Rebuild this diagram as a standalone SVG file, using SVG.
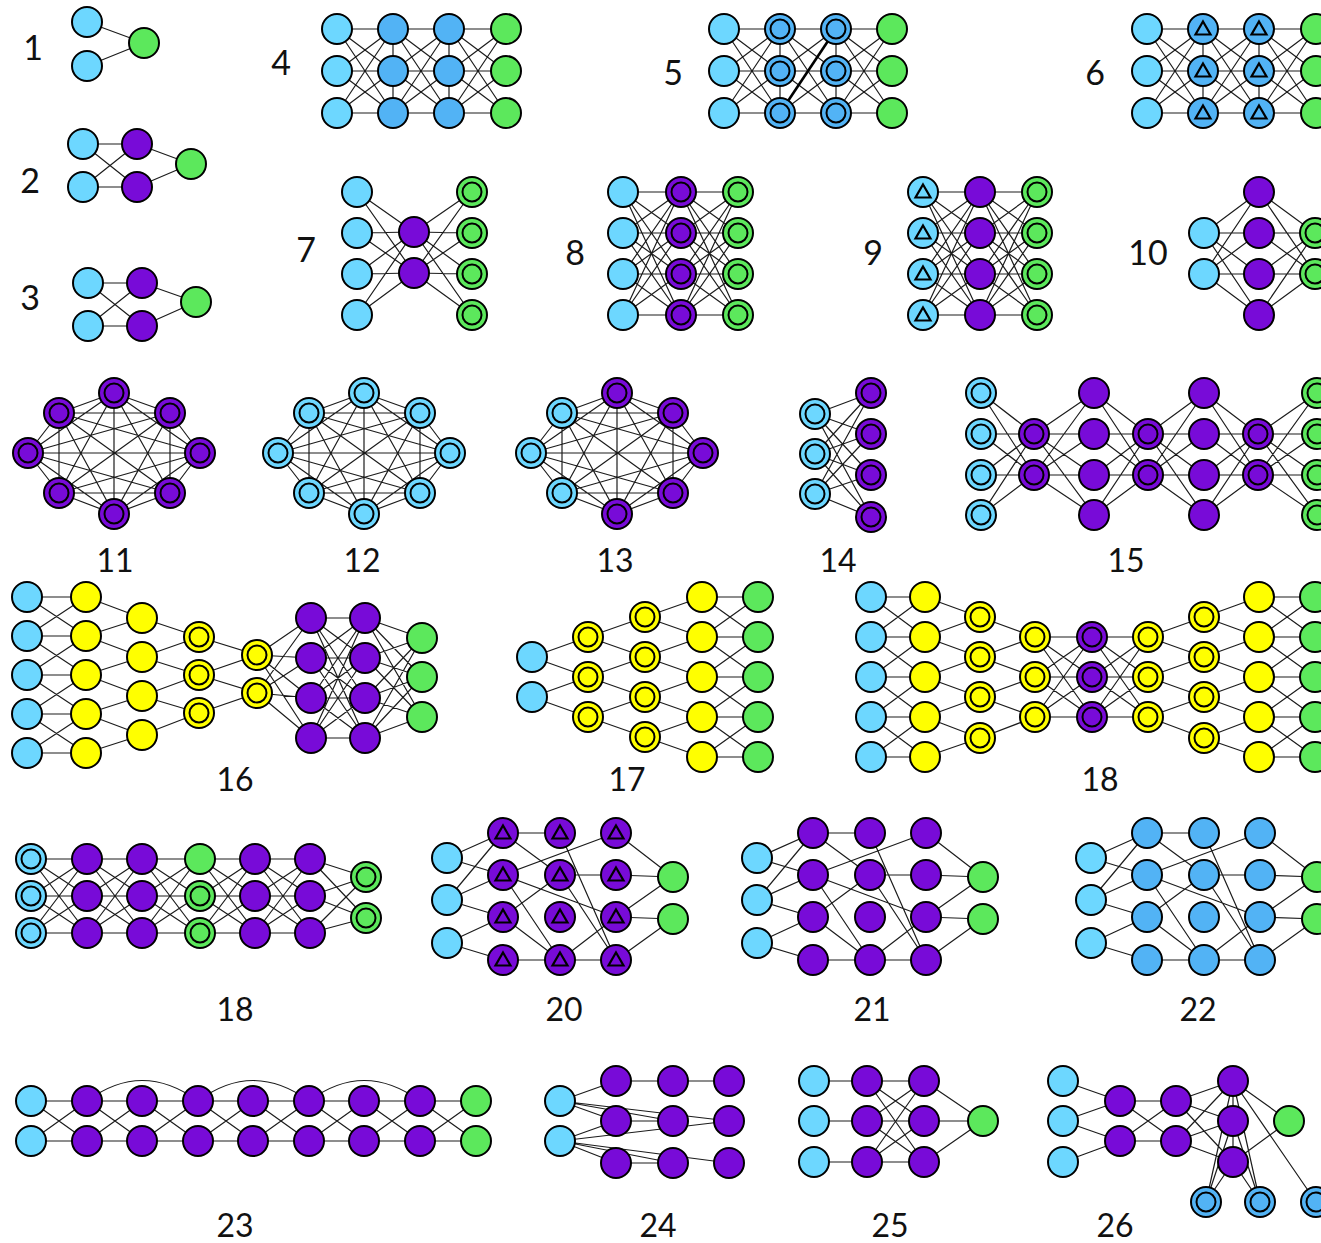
<svg xmlns="http://www.w3.org/2000/svg" width="1321" height="1243" viewBox="0 0 1321 1243">
<style>
.lb{fill:#6dd7ff;stroke:#000;stroke-width:2}
.mb{fill:#52b3f5;stroke:#000;stroke-width:2}
.gr{fill:#5ce85c;stroke:#000;stroke-width:2}
.pu{fill:#780bd8;stroke:#000;stroke-width:2}
.ye{fill:#ffff00;stroke:#000;stroke-width:2}
.tri{fill:none;stroke:#000;stroke-width:2.2;stroke-linejoin:miter}
.e{fill:none;stroke:#1c1c1c;stroke-width:1.2}
.lbl{font-family:Lato,"Liberation Sans",sans-serif;font-size:34px;fill:#111;text-anchor:middle}
.lbl2{font-family:Lato,"Liberation Sans",sans-serif;font-size:32px;fill:#111;text-anchor:middle}
</style>
<defs>
<g id="LB"><circle r="15" class="lb"/></g>
<g id="LBD"><circle r="15" class="lb"/><circle r="9.5" class="lb"/></g>
<g id="LBT"><circle r="15" class="lb"/><path class="tri" d="M0 -7.5L7.5 5.5H-7.5Z"/></g>
<g id="MB"><circle r="15" class="mb"/></g>
<g id="MBD"><circle r="15" class="mb"/><circle r="9.5" class="mb"/></g>
<g id="MBT"><circle r="15" class="mb"/><path class="tri" d="M0 -7.5L7.5 5.5H-7.5Z"/></g>
<g id="GR"><circle r="15" class="gr"/></g>
<g id="GRD"><circle r="15" class="gr"/><circle r="9.5" class="gr"/></g>
<g id="PU"><circle r="15" class="pu"/></g>
<g id="PUD"><circle r="15" class="pu"/><circle r="9.5" class="pu"/></g>
<g id="PUT"><circle r="15" class="pu"/><path class="tri" d="M0 -7.5L7.5 5.5H-7.5Z"/></g>
<g id="YE"><circle r="15" class="ye"/></g>
<g id="YED"><circle r="15" class="ye"/><circle r="9.5" class="ye"/></g>
<path id="fb33" class="e" d="M0 0L56 0M0 0L56 42M0 0L56 84M0 42L56 0M0 42L56 42M0 42L56 84M0 84L56 0M0 84L56 42M0 84L56 84"/>
<path id="fb44" class="e" d="M0 0L57 0M0 0L57 41M0 0L57 82M0 0L57 123M0 41L57 0M0 41L57 41M0 41L57 82M0 41L57 123M0 82L57 0M0 82L57 41M0 82L57 82M0 82L57 123M0 123L57 0M0 123L57 41M0 123L57 82M0 123L57 123"/>
<path id="fb33s" class="e" d="M0 0L56 0M0 0L56 37M0 0L56 74M0 37L56 0M0 37L56 37M0 37L56 74M0 74L56 0M0 74L56 37M0 74L56 74"/>
<path id="fb22" class="e" d="M0 0L56 0M0 0L56 40M0 40L56 0M0 40L56 40"/>
<path id="k8" class="e" d="M114 393L170 413M114 393L200 453M114 393L170 493M114 393L114 514M114 393L59 493M114 393L28 453M114 393L59 413M170 413L200 453M170 413L170 493M170 413L114 514M170 413L59 493M170 413L28 453M170 413L59 413M200 453L170 493M200 453L114 514M200 453L59 493M200 453L28 453M200 453L59 413M170 493L114 514M170 493L59 493M170 493L28 453M170 493L59 413M114 514L59 493M114 514L28 453M114 514L59 413M59 493L28 453M59 493L59 413M28 453L59 413"/>
<path id="net20" class="e" d="M0 0L56 -25M0 0L56 17M0 42L56 -25M0 42L56 17M0 42L56 59M0 85L56 59M0 85L56 102M56 -25L113 -25M56 -25L113 17M56 17L169 -25M56 17L169 59M56 17L113 102M56 59L113 17M56 59L113 102M56 102L113 102M113 -25L169 102M113 17L169 17M113 17L169 102M113 102L169 59M113 102L169 102M169 -25L226 19M169 17L226 19M169 59L226 19M169 59L226 61M169 102L226 61"/>
</defs>
<rect width="1321" height="1243" fill="#fff"/>
<g id="connectors">
<path class="e" d="M87 22L144 43M87 66L144 43"/>
<path class="e" d="M83 144L137 144M83 144L137 187M83 187L137 144M83 187L137 187M137 144L191 164M137 187L191 164"/>
<path class="e" d="M88 283L142 283M88 283L142 326M88 326L142 283M88 326L142 326M142 283L196 302M142 326L196 302"/>
<use href="#fb33" x="337" y="29"/><use href="#fb33" x="393" y="29"/><use href="#fb33" x="450" y="29"/>
<path class="e" d="M393 29L393 113M449 29L449 113"/>
<use href="#fb33" x="724" y="29"/><use href="#fb33" x="780" y="29"/><use href="#fb33" x="836" y="29"/>
<path class="e" d="M780 29L780 113M836 29L836 113"/>
<path class="e" style="stroke-width:2.6;stroke:#000" d="M780 113L836 29"/>
<use href="#fb33" x="1147" y="29"/><use href="#fb33" x="1203" y="29"/><use href="#fb33" x="1259" y="29"/>
<path class="e" d="M1203 29L1203 113M1259 29L1259 113"/>
<path class="e" d="M357 192L414 232M357 192L414 273M357 233L414 232M357 233L414 273M357 274L414 232M357 274L414 273M357 315L414 232M357 315L414 273M414 232L472 192M414 232L472 233M414 232L472 274M414 232L472 315M414 273L472 192M414 273L472 233M414 273L472 274M414 273L472 315"/>
<use href="#fb44" x="623" y="192"/><use href="#fb44" x="681" y="192"/>
<use href="#fb44" x="923" y="192"/><use href="#fb44" x="980" y="192"/>
<path class="e" d="M1204 233L1259 192M1204 233L1259 233M1204 233L1259 274M1204 233L1259 315M1204 274L1259 192M1204 274L1259 233M1204 274L1259 274M1204 274L1259 315M1259 192L1315 233M1259 192L1315 274M1259 233L1315 233M1259 233L1315 274M1259 274L1315 233M1259 274L1315 274M1259 315L1315 233M1259 315L1315 274"/>
<use href="#k8"/><use href="#k8" x="250"/><use href="#k8" x="503"/>
<path class="e" d="M815 414L871 393M815 414L871 434M815 414L871 475M815 414L871 517M815 454L871 393M815 454L871 434M815 454L871 475M815 454L871 517M815 494L871 393M815 494L871 434M815 494L871 475M815 494L871 517"/>
<path class="e" d="M981 393L1034 434M981 393L1034 475M981 434L1034 434M981 434L1034 475M981 475L1034 434M981 475L1034 475M981 515L1034 434M981 515L1034 475M1034 434L1094 393M1034 434L1094 434M1034 434L1094 475M1034 434L1094 515M1034 475L1094 393M1034 475L1094 434M1034 475L1094 475M1034 475L1094 515M1094 393L1148 434M1094 393L1148 475M1094 434L1148 434M1094 434L1148 475M1094 475L1148 434M1094 475L1148 475M1094 515L1148 434M1094 515L1148 475M1148 434L1204 393M1148 434L1204 434M1148 434L1204 475M1148 434L1204 515M1148 475L1204 393M1148 475L1204 434M1148 475L1204 475M1148 475L1204 515M1204 393L1258 434M1204 393L1258 475M1204 434L1258 434M1204 434L1258 475M1204 475L1258 434M1204 475L1258 475M1204 515L1258 434M1204 515L1258 475M1258 434L1317 393M1258 434L1317 434M1258 434L1317 475M1258 434L1317 515M1258 475L1317 393M1258 475L1317 434M1258 475L1317 475M1258 475L1317 515"/>
<path class="e" d="M27 597L86 597M27 597L86 636M27 636L86 597M27 636L86 636M27 636L86 675M27 675L86 636M27 675L86 675M27 675L86 714M27 714L86 675M27 714L86 714M27 714L86 753M27 753L86 714M27 753L86 753M86 597L142 618M86 636L142 618M86 636L142 657M86 675L142 657M86 675L142 696M86 714L142 696M86 714L142 735M86 753L142 735M142 618L199 637M142 657L199 637M142 657L199 675M142 696L199 675M142 696L199 713M142 735L199 713M199 637L257 655M199 675L257 655M199 675L257 693M199 713L257 693M257 655L311 618M257 655L311 658M257 655L311 698M257 655L311 738M257 693L311 618M257 693L311 658M257 693L311 698M257 693L311 738M311 618L365 618M311 618L365 658M311 618L365 698M311 618L365 738M311 658L365 618M311 658L365 658M311 658L365 698M311 658L365 738M311 698L365 618M311 698L365 658M311 698L365 698M311 698L365 738M311 738L365 618M311 738L365 658M311 738L365 698M311 738L365 738M365 618L422 638M365 618L422 677M365 618L422 717M365 658L422 638M365 658L422 677M365 658L422 717M365 698L422 638M365 698L422 677M365 698L422 717M365 738L422 638M365 738L422 677M365 738L422 717"/>
<path class="e" d="M532 657L588 637M532 657L588 677M532 697L588 677M532 697L588 717M588 637L645 617M588 637L645 657M588 677L645 657M588 677L645 697M588 717L645 697M588 717L645 737M645 617L702 597M645 617L702 637M645 657L702 637M645 657L702 677M645 697L702 677M645 697L702 717M645 737L702 717M645 737L702 757M702 597L758 597M702 597L758 637M702 637L758 597M702 637L758 637M702 637L758 677M702 677L758 637M702 677L758 677M702 677L758 717M702 717L758 677M702 717L758 717M702 717L758 757M702 757L758 717M702 757L758 757"/>
<path class="e" d="M871 597L925 597M871 597L925 637M871 637L925 597M871 637L925 637M871 637L925 677M871 677L925 637M871 677L925 677M871 677L925 717M871 717L925 677M871 717L925 717M871 717L925 757M871 757L925 717M871 757L925 757M925 597L980 617M925 637L980 617M925 637L980 657M925 677L980 657M925 677L980 697M925 717L980 697M925 717L980 738M925 757L980 738M980 617L1035 637M980 657L1035 637M980 657L1035 677M980 697L1035 677M980 697L1035 717M980 738L1035 717M1035 637L1092 637M1035 637L1092 677M1035 637L1092 717M1035 677L1092 637M1035 677L1092 677M1035 677L1092 717M1035 717L1092 637M1035 717L1092 677M1035 717L1092 717M1092 637L1148 637M1092 637L1148 677M1092 637L1148 717M1092 677L1148 637M1092 677L1148 677M1092 677L1148 717M1092 717L1148 637M1092 717L1148 677M1092 717L1148 717M1148 637L1204 617M1148 637L1204 657M1148 677L1204 657M1148 677L1204 697M1148 717L1204 697M1148 717L1204 738M1204 617L1259 597M1204 617L1259 637M1204 657L1259 637M1204 657L1259 677M1204 697L1259 677M1204 697L1259 717M1204 738L1259 717M1204 738L1259 757M1259 597L1315 597M1259 597L1315 637M1259 637L1315 597M1259 637L1315 637M1259 637L1315 677M1259 677L1315 637M1259 677L1315 677M1259 677L1315 717M1259 717L1315 677M1259 717L1315 717M1259 717L1315 757M1259 757L1315 717M1259 757L1315 757"/>
<use href="#fb33s" x="31" y="859"/><use href="#fb33s" x="87" y="859"/><use href="#fb33s" x="142" y="859"/><use href="#fb33s" x="200" y="859"/><use href="#fb33s" x="255" y="859"/>
<path class="e" d="M310 859L366 877M310 859L366 918M310 896L366 877M310 896L366 918M310 933L366 877M310 933L366 918"/>
<use href="#net20" x="447" y="858"/><use href="#net20" x="757" y="858"/><use href="#net20" x="1091" y="858"/>
<use href="#fb22" x="31" y="1101"/><use href="#fb22" x="87" y="1101"/><use href="#fb22" x="142" y="1101"/><use href="#fb22" x="198" y="1101"/><use href="#fb22" x="253" y="1101"/><use href="#fb22" x="309" y="1101"/><use href="#fb22" x="364" y="1101"/><use href="#fb22" x="420" y="1101"/>
<path class="e" d="M87 1101Q142 1060 198 1101M198 1101Q253 1060 309 1101M309 1101Q364 1060 420 1101"/>
<path class="e" d="M560 1101L616 1081M560 1101L616 1121M560 1101L673 1121M560 1101L729 1121M560 1141L616 1121M560 1141L616 1163M560 1141L673 1163M560 1141L729 1163M560 1141L729 1121M616 1081L673 1081M616 1121L673 1121M616 1163L673 1163M673 1081L729 1081"/>
<path class="e" d="M814 1081L867 1081M814 1121L867 1121M814 1162L867 1162M867 1081L924 1081M867 1081L924 1121M867 1081L924 1162M867 1121L924 1081M867 1121L924 1121M867 1121L924 1162M867 1162L924 1081M867 1162L924 1121M867 1162L924 1162M924 1081L983 1121M924 1121L983 1121M924 1162L983 1121"/>
<path class="e" d="M1063 1081L1120 1101M1063 1121L1120 1101M1063 1121L1120 1141M1063 1162L1120 1141M1120 1101L1176 1101M1120 1101L1176 1141M1120 1141L1176 1101M1120 1141L1176 1141M1176 1101L1233 1081M1176 1101L1233 1121M1176 1101L1233 1162M1176 1141L1233 1081M1176 1141L1233 1121M1176 1141L1233 1162M1233 1081L1233 1162M1233 1081L1289 1121M1233 1162L1289 1121M1233 1081L1206 1202M1233 1081L1260 1202M1233 1081L1316 1202M1233 1121L1206 1202M1233 1121L1260 1202M1233 1162L1206 1202M1233 1162L1260 1202"/>
</g>
<g id="nodes">
<g id="d1-1"><use href="#LB" x="87" y="22"/></g><g id="d1-2"><use href="#LB" x="87" y="66"/></g><g id="d1-3"><use href="#GR" x="144" y="43"/></g>
<g id="d2-1"><use href="#LB" x="83" y="144"/></g><g id="d2-2"><use href="#LB" x="83" y="187"/></g><g id="d2-3"><use href="#PU" x="137" y="144"/></g><g id="d2-4"><use href="#PU" x="137" y="187"/></g><g id="d2-5"><use href="#GR" x="191" y="164"/></g>
<g id="d3-1"><use href="#LB" x="88" y="283"/></g><g id="d3-2"><use href="#LB" x="88" y="326"/></g><g id="d3-3"><use href="#PU" x="142" y="283"/></g><g id="d3-4"><use href="#PU" x="142" y="326"/></g><g id="d3-5"><use href="#GR" x="196" y="302"/></g>
<g id="d4-1"><use href="#LB" x="337" y="29"/></g><g id="d4-2"><use href="#LB" x="337" y="71"/></g><g id="d4-3"><use href="#LB" x="337" y="113"/></g>
<g id="d4-4"><use href="#MB" x="393" y="29"/></g><g id="d4-5"><use href="#MB" x="393" y="71"/></g><g id="d4-6"><use href="#MB" x="393" y="113"/></g>
<g id="d4-7"><use href="#MB" x="449" y="29"/></g><g id="d4-8"><use href="#MB" x="449" y="71"/></g><g id="d4-9"><use href="#MB" x="449" y="113"/></g>
<g id="d4-10"><use href="#GR" x="506" y="29"/></g><g id="d4-11"><use href="#GR" x="506" y="71"/></g><g id="d4-12"><use href="#GR" x="506" y="113"/></g>
<g id="d5-1"><use href="#LB" x="724" y="29"/></g><g id="d5-2"><use href="#LB" x="724" y="71"/></g><g id="d5-3"><use href="#LB" x="724" y="113"/></g>
<g id="d5-4"><use href="#MBD" x="780" y="29"/></g><g id="d5-5"><use href="#MBD" x="780" y="71"/></g><g id="d5-6"><use href="#MBD" x="780" y="113"/></g>
<g id="d5-7"><use href="#MBD" x="836" y="29"/></g><g id="d5-8"><use href="#MBD" x="836" y="71"/></g><g id="d5-9"><use href="#MBD" x="836" y="113"/></g>
<g id="d5-10"><use href="#GR" x="892" y="29"/></g><g id="d5-11"><use href="#GR" x="892" y="71"/></g><g id="d5-12"><use href="#GR" x="892" y="113"/></g>
<g id="d6-1"><use href="#LB" x="1147" y="29"/></g><g id="d6-2"><use href="#LB" x="1147" y="71"/></g><g id="d6-3"><use href="#LB" x="1147" y="113"/></g>
<g id="d6-4"><use href="#MBT" x="1203" y="29"/></g><g id="d6-5"><use href="#MBT" x="1203" y="71"/></g><g id="d6-6"><use href="#MBT" x="1203" y="113"/></g>
<g id="d6-7"><use href="#MBT" x="1259" y="29"/></g><g id="d6-8"><use href="#MBT" x="1259" y="71"/></g><g id="d6-9"><use href="#MBT" x="1259" y="113"/></g>
<g id="d6-10"><use href="#GR" x="1316" y="29"/></g><g id="d6-11"><use href="#GR" x="1316" y="71"/></g><g id="d6-12"><use href="#GR" x="1316" y="113"/></g>
<g id="d7-1"><use href="#LB" x="357" y="192"/></g><g id="d7-2"><use href="#LB" x="357" y="233"/></g><g id="d7-3"><use href="#LB" x="357" y="274"/></g><g id="d7-4"><use href="#LB" x="357" y="315"/></g>
<g id="d7-5"><use href="#PU" x="414" y="232"/></g><g id="d7-6"><use href="#PU" x="414" y="273"/></g>
<g id="d7-7"><use href="#GRD" x="472" y="192"/></g><g id="d7-8"><use href="#GRD" x="472" y="233"/></g><g id="d7-9"><use href="#GRD" x="472" y="274"/></g><g id="d7-10"><use href="#GRD" x="472" y="315"/></g>
<g id="d8-1"><use href="#LB" x="623" y="192"/></g><g id="d8-2"><use href="#LB" x="623" y="233"/></g><g id="d8-3"><use href="#LB" x="623" y="274"/></g><g id="d8-4"><use href="#LB" x="623" y="315"/></g>
<g id="d8-5"><use href="#PUD" x="681" y="192"/></g><g id="d8-6"><use href="#PUD" x="681" y="233"/></g><g id="d8-7"><use href="#PUD" x="681" y="274"/></g><g id="d8-8"><use href="#PUD" x="681" y="315"/></g>
<g id="d8-9"><use href="#GRD" x="738" y="192"/></g><g id="d8-10"><use href="#GRD" x="738" y="233"/></g><g id="d8-11"><use href="#GRD" x="738" y="274"/></g><g id="d8-12"><use href="#GRD" x="738" y="315"/></g>
<g id="d9-1"><use href="#LBT" x="923" y="192"/></g><g id="d9-2"><use href="#LBT" x="923" y="233"/></g><g id="d9-3"><use href="#LBT" x="923" y="274"/></g><g id="d9-4"><use href="#LBT" x="923" y="315"/></g>
<g id="d9-5"><use href="#PU" x="980" y="192"/></g><g id="d9-6"><use href="#PU" x="980" y="233"/></g><g id="d9-7"><use href="#PU" x="980" y="274"/></g><g id="d9-8"><use href="#PU" x="980" y="315"/></g>
<g id="d9-9"><use href="#GRD" x="1037" y="192"/></g><g id="d9-10"><use href="#GRD" x="1037" y="233"/></g><g id="d9-11"><use href="#GRD" x="1037" y="274"/></g><g id="d9-12"><use href="#GRD" x="1037" y="315"/></g>
<g id="d10-1"><use href="#LB" x="1204" y="233"/></g><g id="d10-2"><use href="#LB" x="1204" y="274"/></g>
<g id="d10-3"><use href="#PU" x="1259" y="192"/></g><g id="d10-4"><use href="#PU" x="1259" y="233"/></g><g id="d10-5"><use href="#PU" x="1259" y="274"/></g><g id="d10-6"><use href="#PU" x="1259" y="315"/></g>
<g id="d10-7"><use href="#GRD" x="1315" y="233"/></g><g id="d10-8"><use href="#GRD" x="1315" y="274"/></g>
<g id="d11-1"><use href="#PUD" x="114" y="393"/></g><g id="d11-2"><use href="#PUD" x="170" y="413"/></g><g id="d11-3"><use href="#PUD" x="200" y="453"/></g><g id="d11-4"><use href="#PUD" x="170" y="493"/></g><g id="d11-5"><use href="#PUD" x="114" y="514"/></g><g id="d11-6"><use href="#PUD" x="59" y="493"/></g><g id="d11-7"><use href="#PUD" x="28" y="453"/></g><g id="d11-8"><use href="#PUD" x="59" y="413"/></g>
<g id="d12-1"><use href="#LBD" x="364" y="393"/></g><g id="d12-2"><use href="#LBD" x="420" y="413"/></g><g id="d12-3"><use href="#LBD" x="450" y="453"/></g><g id="d12-4"><use href="#LBD" x="420" y="493"/></g><g id="d12-5"><use href="#LBD" x="364" y="514"/></g><g id="d12-6"><use href="#LBD" x="309" y="493"/></g><g id="d12-7"><use href="#LBD" x="278" y="453"/></g><g id="d12-8"><use href="#LBD" x="309" y="413"/></g>
<g id="d13-1"><use href="#PUD" x="617" y="393"/></g><g id="d13-2"><use href="#PUD" x="673" y="413"/></g><g id="d13-3"><use href="#PUD" x="703" y="453"/></g><g id="d13-4"><use href="#PUD" x="673" y="493"/></g><g id="d13-5"><use href="#PUD" x="617" y="514"/></g><g id="d13-6"><use href="#LBD" x="562" y="493"/></g><g id="d13-7"><use href="#LBD" x="531" y="453"/></g><g id="d13-8"><use href="#LBD" x="562" y="413"/></g>
<g id="d14-1"><use href="#LBD" x="815" y="414"/></g><g id="d14-2"><use href="#LBD" x="815" y="454"/></g><g id="d14-3"><use href="#LBD" x="815" y="494"/></g>
<g id="d14-4"><use href="#PUD" x="871" y="393"/></g><g id="d14-5"><use href="#PUD" x="871" y="434"/></g><g id="d14-6"><use href="#PUD" x="871" y="475"/></g><g id="d14-7"><use href="#PUD" x="871" y="517"/></g>
<g id="d15-1"><use href="#LBD" x="981" y="393"/></g><g id="d15-2"><use href="#LBD" x="981" y="434"/></g><g id="d15-3"><use href="#LBD" x="981" y="475"/></g><g id="d15-4"><use href="#LBD" x="981" y="515"/></g>
<g id="d15-5"><use href="#PUD" x="1034" y="434"/></g><g id="d15-6"><use href="#PUD" x="1034" y="475"/></g>
<g id="d15-7"><use href="#PU" x="1094" y="393"/></g><g id="d15-8"><use href="#PU" x="1094" y="434"/></g><g id="d15-9"><use href="#PU" x="1094" y="475"/></g><g id="d15-10"><use href="#PU" x="1094" y="515"/></g>
<g id="d15-11"><use href="#PUD" x="1148" y="434"/></g><g id="d15-12"><use href="#PUD" x="1148" y="475"/></g>
<g id="d15-13"><use href="#PU" x="1204" y="393"/></g><g id="d15-14"><use href="#PU" x="1204" y="434"/></g><g id="d15-15"><use href="#PU" x="1204" y="475"/></g><g id="d15-16"><use href="#PU" x="1204" y="515"/></g>
<g id="d15-17"><use href="#PUD" x="1258" y="434"/></g><g id="d15-18"><use href="#PUD" x="1258" y="475"/></g>
<g id="d15-19"><use href="#GRD" x="1317" y="393"/></g><g id="d15-20"><use href="#GRD" x="1317" y="434"/></g><g id="d15-21"><use href="#GRD" x="1317" y="475"/></g><g id="d15-22"><use href="#GRD" x="1317" y="515"/></g>
<g id="d16-1"><use href="#LB" x="27" y="597"/></g><g id="d16-2"><use href="#LB" x="27" y="636"/></g><g id="d16-3"><use href="#LB" x="27" y="675"/></g><g id="d16-4"><use href="#LB" x="27" y="714"/></g><g id="d16-5"><use href="#LB" x="27" y="753"/></g>
<g id="d16-6"><use href="#YE" x="86" y="597"/></g><g id="d16-7"><use href="#YE" x="86" y="636"/></g><g id="d16-8"><use href="#YE" x="86" y="675"/></g><g id="d16-9"><use href="#YE" x="86" y="714"/></g><g id="d16-10"><use href="#YE" x="86" y="753"/></g>
<g id="d16-11"><use href="#YE" x="142" y="618"/></g><g id="d16-12"><use href="#YE" x="142" y="657"/></g><g id="d16-13"><use href="#YE" x="142" y="696"/></g><g id="d16-14"><use href="#YE" x="142" y="735"/></g>
<g id="d16-15"><use href="#YED" x="199" y="637"/></g><g id="d16-16"><use href="#YED" x="199" y="675"/></g><g id="d16-17"><use href="#YED" x="199" y="713"/></g>
<g id="d16-18"><use href="#YED" x="257" y="655"/></g><g id="d16-19"><use href="#YED" x="257" y="693"/></g>
<g id="d16-20"><use href="#PU" x="311" y="618"/></g><g id="d16-21"><use href="#PU" x="311" y="658"/></g><g id="d16-22"><use href="#PU" x="311" y="698"/></g><g id="d16-23"><use href="#PU" x="311" y="738"/></g>
<g id="d16-24"><use href="#PU" x="365" y="618"/></g><g id="d16-25"><use href="#PU" x="365" y="658"/></g><g id="d16-26"><use href="#PU" x="365" y="698"/></g><g id="d16-27"><use href="#PU" x="365" y="738"/></g>
<g id="d16-28"><use href="#GR" x="422" y="638"/></g><g id="d16-29"><use href="#GR" x="422" y="677"/></g><g id="d16-30"><use href="#GR" x="422" y="717"/></g>
<g id="d17-1"><use href="#LB" x="532" y="657"/></g><g id="d17-2"><use href="#LB" x="532" y="697"/></g>
<g id="d17-3"><use href="#YED" x="588" y="637"/></g><g id="d17-4"><use href="#YED" x="588" y="677"/></g><g id="d17-5"><use href="#YED" x="588" y="717"/></g>
<g id="d17-6"><use href="#YED" x="645" y="617"/></g><g id="d17-7"><use href="#YED" x="645" y="657"/></g><g id="d17-8"><use href="#YED" x="645" y="697"/></g><g id="d17-9"><use href="#YED" x="645" y="737"/></g>
<g id="d17-10"><use href="#YE" x="702" y="597"/></g><g id="d17-11"><use href="#YE" x="702" y="637"/></g><g id="d17-12"><use href="#YE" x="702" y="677"/></g><g id="d17-13"><use href="#YE" x="702" y="717"/></g><g id="d17-14"><use href="#YE" x="702" y="757"/></g>
<g id="d17-15"><use href="#GR" x="758" y="597"/></g><g id="d17-16"><use href="#GR" x="758" y="637"/></g><g id="d17-17"><use href="#GR" x="758" y="677"/></g><g id="d17-18"><use href="#GR" x="758" y="717"/></g><g id="d17-19"><use href="#GR" x="758" y="757"/></g>
<g id="d18-1"><use href="#LB" x="871" y="597"/></g><g id="d18-2"><use href="#LB" x="871" y="637"/></g><g id="d18-3"><use href="#LB" x="871" y="677"/></g><g id="d18-4"><use href="#LB" x="871" y="717"/></g><g id="d18-5"><use href="#LB" x="871" y="757"/></g>
<g id="d18-6"><use href="#YE" x="925" y="597"/></g><g id="d18-7"><use href="#YE" x="925" y="637"/></g><g id="d18-8"><use href="#YE" x="925" y="677"/></g><g id="d18-9"><use href="#YE" x="925" y="717"/></g><g id="d18-10"><use href="#YE" x="925" y="757"/></g>
<g id="d18-11"><use href="#YED" x="980" y="617"/></g><g id="d18-12"><use href="#YED" x="980" y="657"/></g><g id="d18-13"><use href="#YED" x="980" y="697"/></g><g id="d18-14"><use href="#YED" x="980" y="738"/></g>
<g id="d18-15"><use href="#YED" x="1035" y="637"/></g><g id="d18-16"><use href="#YED" x="1035" y="677"/></g><g id="d18-17"><use href="#YED" x="1035" y="717"/></g>
<g id="d18-18"><use href="#PUD" x="1092" y="637"/></g><g id="d18-19"><use href="#PUD" x="1092" y="677"/></g><g id="d18-20"><use href="#PUD" x="1092" y="717"/></g>
<g id="d18-21"><use href="#YED" x="1148" y="637"/></g><g id="d18-22"><use href="#YED" x="1148" y="677"/></g><g id="d18-23"><use href="#YED" x="1148" y="717"/></g>
<g id="d18-24"><use href="#YED" x="1204" y="617"/></g><g id="d18-25"><use href="#YED" x="1204" y="657"/></g><g id="d18-26"><use href="#YED" x="1204" y="697"/></g><g id="d18-27"><use href="#YED" x="1204" y="738"/></g>
<g id="d18-28"><use href="#YE" x="1259" y="597"/></g><g id="d18-29"><use href="#YE" x="1259" y="637"/></g><g id="d18-30"><use href="#YE" x="1259" y="677"/></g><g id="d18-31"><use href="#YE" x="1259" y="717"/></g><g id="d18-32"><use href="#YE" x="1259" y="757"/></g>
<g id="d18-33"><use href="#GR" x="1315" y="597"/></g><g id="d18-34"><use href="#GR" x="1315" y="637"/></g><g id="d18-35"><use href="#GR" x="1315" y="677"/></g><g id="d18-36"><use href="#GR" x="1315" y="717"/></g><g id="d18-37"><use href="#GR" x="1315" y="757"/></g>
<g id="d18b-1"><use href="#LBD" x="31" y="859"/></g><g id="d18b-2"><use href="#LBD" x="31" y="896"/></g><g id="d18b-3"><use href="#LBD" x="31" y="933"/></g>
<g id="d18b-4"><use href="#PU" x="87" y="859"/></g><g id="d18b-5"><use href="#PU" x="87" y="896"/></g><g id="d18b-6"><use href="#PU" x="87" y="933"/></g>
<g id="d18b-7"><use href="#PU" x="142" y="859"/></g><g id="d18b-8"><use href="#PU" x="142" y="896"/></g><g id="d18b-9"><use href="#PU" x="142" y="933"/></g>
<g id="d18b-10"><use href="#GR" x="200" y="859"/></g><g id="d18b-11"><use href="#GRD" x="200" y="896"/></g><g id="d18b-12"><use href="#GRD" x="200" y="933"/></g>
<g id="d18b-13"><use href="#PU" x="255" y="859"/></g><g id="d18b-14"><use href="#PU" x="255" y="896"/></g><g id="d18b-15"><use href="#PU" x="255" y="933"/></g>
<g id="d18b-16"><use href="#PU" x="310" y="859"/></g><g id="d18b-17"><use href="#PU" x="310" y="896"/></g><g id="d18b-18"><use href="#PU" x="310" y="933"/></g>
<g id="d18b-19"><use href="#GRD" x="366" y="877"/></g><g id="d18b-20"><use href="#GRD" x="366" y="918"/></g>
<g id="d20-1"><use href="#LB" x="447" y="858"/></g><g id="d20-2"><use href="#LB" x="447" y="900"/></g><g id="d20-3"><use href="#LB" x="447" y="943"/></g>
<g id="d20-4"><use href="#PUT" x="503" y="833"/></g><g id="d20-5"><use href="#PUT" x="503" y="875"/></g><g id="d20-6"><use href="#PUT" x="503" y="917"/></g><g id="d20-7"><use href="#PUT" x="503" y="960"/></g>
<g id="d20-8"><use href="#PUT" x="560" y="833"/></g><g id="d20-9"><use href="#PUT" x="560" y="875"/></g><g id="d20-10"><use href="#PUT" x="560" y="917"/></g><g id="d20-11"><use href="#PUT" x="560" y="960"/></g>
<g id="d20-12"><use href="#PUT" x="616" y="833"/></g><g id="d20-13"><use href="#PUT" x="616" y="875"/></g><g id="d20-14"><use href="#PUT" x="616" y="917"/></g><g id="d20-15"><use href="#PUT" x="616" y="960"/></g>
<g id="d20-16"><use href="#GR" x="673" y="877"/></g><g id="d20-17"><use href="#GR" x="673" y="919"/></g>
<g id="d21-1"><use href="#LB" x="757" y="858"/></g><g id="d21-2"><use href="#LB" x="757" y="900"/></g><g id="d21-3"><use href="#LB" x="757" y="943"/></g>
<g id="d21-4"><use href="#PU" x="813" y="833"/></g><g id="d21-5"><use href="#PU" x="813" y="875"/></g><g id="d21-6"><use href="#PU" x="813" y="917"/></g><g id="d21-7"><use href="#PU" x="813" y="960"/></g>
<g id="d21-8"><use href="#PU" x="870" y="833"/></g><g id="d21-9"><use href="#PU" x="870" y="875"/></g><g id="d21-10"><use href="#PU" x="870" y="917"/></g><g id="d21-11"><use href="#PU" x="870" y="960"/></g>
<g id="d21-12"><use href="#PU" x="926" y="833"/></g><g id="d21-13"><use href="#PU" x="926" y="875"/></g><g id="d21-14"><use href="#PU" x="926" y="917"/></g><g id="d21-15"><use href="#PU" x="926" y="960"/></g>
<g id="d21-16"><use href="#GR" x="983" y="877"/></g><g id="d21-17"><use href="#GR" x="983" y="919"/></g>
<g id="d22-1"><use href="#LB" x="1091" y="858"/></g><g id="d22-2"><use href="#LB" x="1091" y="900"/></g><g id="d22-3"><use href="#LB" x="1091" y="943"/></g>
<g id="d22-4"><use href="#MB" x="1147" y="833"/></g><g id="d22-5"><use href="#MB" x="1147" y="875"/></g><g id="d22-6"><use href="#MB" x="1147" y="917"/></g><g id="d22-7"><use href="#MB" x="1147" y="960"/></g>
<g id="d22-8"><use href="#MB" x="1204" y="833"/></g><g id="d22-9"><use href="#MB" x="1204" y="875"/></g><g id="d22-10"><use href="#MB" x="1204" y="917"/></g><g id="d22-11"><use href="#MB" x="1204" y="960"/></g>
<g id="d22-12"><use href="#MB" x="1260" y="833"/></g><g id="d22-13"><use href="#MB" x="1260" y="875"/></g><g id="d22-14"><use href="#MB" x="1260" y="917"/></g><g id="d22-15"><use href="#MB" x="1260" y="960"/></g>
<g id="d22-16"><use href="#GR" x="1317" y="877"/></g><g id="d22-17"><use href="#GR" x="1317" y="919"/></g>
<g id="d23-1"><use href="#LB" x="31" y="1101"/></g><g id="d23-2"><use href="#LB" x="31" y="1141"/></g>
<g id="d23-3"><use href="#PU" x="87" y="1101"/></g><g id="d23-4"><use href="#PU" x="87" y="1141"/></g>
<g id="d23-5"><use href="#PU" x="142" y="1101"/></g><g id="d23-6"><use href="#PU" x="142" y="1141"/></g>
<g id="d23-7"><use href="#PU" x="198" y="1101"/></g><g id="d23-8"><use href="#PU" x="198" y="1141"/></g>
<g id="d23-9"><use href="#PU" x="253" y="1101"/></g><g id="d23-10"><use href="#PU" x="253" y="1141"/></g>
<g id="d23-11"><use href="#PU" x="309" y="1101"/></g><g id="d23-12"><use href="#PU" x="309" y="1141"/></g>
<g id="d23-13"><use href="#PU" x="364" y="1101"/></g><g id="d23-14"><use href="#PU" x="364" y="1141"/></g>
<g id="d23-15"><use href="#PU" x="420" y="1101"/></g><g id="d23-16"><use href="#PU" x="420" y="1141"/></g>
<g id="d23-17"><use href="#GR" x="476" y="1101"/></g><g id="d23-18"><use href="#GR" x="476" y="1141"/></g>
<g id="d24-1"><use href="#LB" x="560" y="1101"/></g><g id="d24-2"><use href="#LB" x="560" y="1141"/></g>
<g id="d24-3"><use href="#PU" x="616" y="1081"/></g><g id="d24-4"><use href="#PU" x="616" y="1121"/></g><g id="d24-5"><use href="#PU" x="616" y="1163"/></g>
<g id="d24-6"><use href="#PU" x="673" y="1081"/></g><g id="d24-7"><use href="#PU" x="673" y="1121"/></g><g id="d24-8"><use href="#PU" x="673" y="1163"/></g>
<g id="d24-9"><use href="#PU" x="729" y="1081"/></g><g id="d24-10"><use href="#PU" x="729" y="1121"/></g><g id="d24-11"><use href="#PU" x="729" y="1163"/></g>
<g id="d25-1"><use href="#LB" x="814" y="1081"/></g><g id="d25-2"><use href="#LB" x="814" y="1121"/></g><g id="d25-3"><use href="#LB" x="814" y="1162"/></g>
<g id="d25-4"><use href="#PU" x="867" y="1081"/></g><g id="d25-5"><use href="#PU" x="867" y="1121"/></g><g id="d25-6"><use href="#PU" x="867" y="1162"/></g>
<g id="d25-7"><use href="#PU" x="924" y="1081"/></g><g id="d25-8"><use href="#PU" x="924" y="1121"/></g><g id="d25-9"><use href="#PU" x="924" y="1162"/></g>
<g id="d25-10"><use href="#GR" x="983" y="1121"/></g>
<g id="d26-1"><use href="#LB" x="1063" y="1081"/></g><g id="d26-2"><use href="#LB" x="1063" y="1121"/></g><g id="d26-3"><use href="#LB" x="1063" y="1162"/></g>
<g id="d26-4"><use href="#PU" x="1120" y="1101"/></g><g id="d26-5"><use href="#PU" x="1120" y="1141"/></g>
<g id="d26-6"><use href="#PU" x="1176" y="1101"/></g><g id="d26-7"><use href="#PU" x="1176" y="1141"/></g>
<g id="d26-8"><use href="#PU" x="1233" y="1081"/></g><g id="d26-9"><use href="#PU" x="1233" y="1121"/></g><g id="d26-10"><use href="#PU" x="1233" y="1162"/></g>
<g id="d26-11"><use href="#GR" x="1289" y="1121"/></g>
<g id="d26-12"><use href="#MBD" x="1206" y="1202"/></g><g id="d26-13"><use href="#MBD" x="1260" y="1202"/></g><g id="d26-14"><use href="#MBD" x="1316" y="1202"/></g>
</g>
<g id="labels">
<text class="lbl" x="33" y="60">1</text>
<text class="lbl" x="30" y="193">2</text>
<text class="lbl" x="30" y="310">3</text>
<text class="lbl" x="281" y="75">4</text>
<text class="lbl" x="673" y="85">5</text>
<text class="lbl" x="1095" y="85">6</text>
<text class="lbl" x="306" y="262">7</text>
<text class="lbl" x="575" y="265">8</text>
<text class="lbl" x="873" y="265">9</text>
<text class="lbl" x="1148" y="265">10</text>
<text class="lbl2" x="115" y="572">11</text>
<text class="lbl2" x="362" y="572">12</text>
<text class="lbl2" x="615" y="572">13</text>
<text class="lbl2" x="838" y="572">14</text>
<text class="lbl2" x="1126" y="572">15</text>
<text class="lbl2" x="235" y="791">16</text>
<text class="lbl2" x="627" y="791">17</text>
<text class="lbl2" x="1100" y="791">18</text>
<text class="lbl2" x="235" y="1021">18</text>
<text class="lbl2" x="564" y="1021">20</text>
<text class="lbl2" x="872" y="1021">21</text>
<text class="lbl2" x="1198" y="1021">22</text>
<text class="lbl2" x="235" y="1237">23</text>
<text class="lbl2" x="658" y="1237">24</text>
<text class="lbl2" x="890" y="1237">25</text>
<text class="lbl2" x="1115" y="1237">26</text>
</g>
</svg>
